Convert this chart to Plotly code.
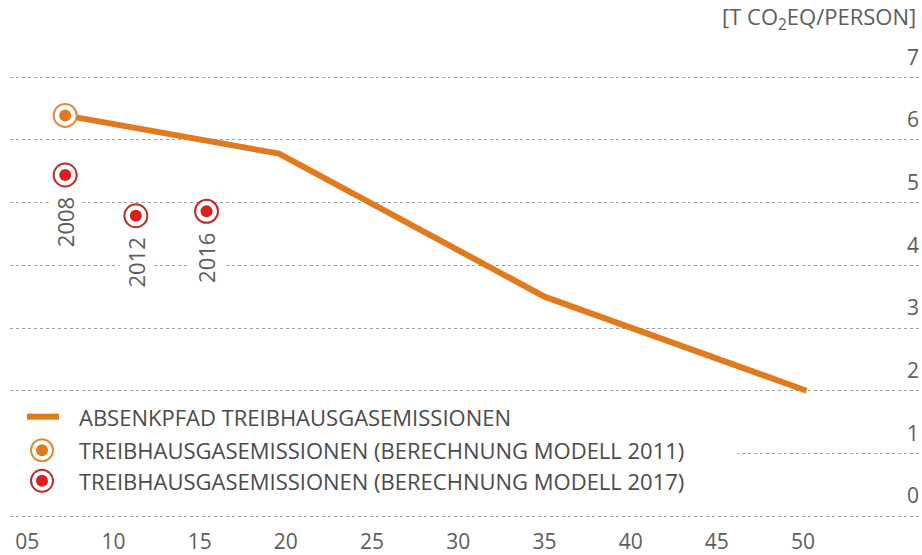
import plotly.graph_objects as go

# Absenkpfad (line) and model results
path_years = [2007.2, 2019.6, 2035.0, 2050.2]
path_values = [6.39, 5.78, 3.50, 2.00]

model2011_years = [2007.2]
model2011_values = [6.39]

model2017_years = [2007.2, 2011.3, 2015.4]
model2017_values = [5.44, 4.79, 4.86]
model2017_labels = ['2008', '2012', '2016']

x_tickvals = [2005, 2010, 2015, 2020, 2025, 2030, 2035, 2040, 2045, 2050]
x_ticktext = ['05', '10', '15', '20', '25', '30', '35', '40', '45', '50']
y_tickvals = [0, 1, 2, 3, 4, 5, 6, 7]

legend_texts = [
    'ABSENKPFAD TREIBHAUSGASEMISSIONEN',
    'TREIBHAUSGASEMISSIONEN (BERECHNUNG MODELL 2011)',
    'TREIBHAUSGASEMISSIONEN (BERECHNUNG MODELL 2017)',
]

ORANGE = '#e07a1c'
ORANGE_RING = '#e38b3c'
RED = '#d9201f'
RED_RING = '#b8302e'
FONT = 'Open Sans'
GREY = '#5c5c5c'
FS = 22

fig = go.Figure()

fig.add_trace(go.Scatter(
    x=path_years, y=path_values, mode='lines',
    line=dict(color=ORANGE, width=6), showlegend=False, hoverinfo='skip'
))

def add_ring(fig, xs, ys, ring, dot):
    fig.add_trace(go.Scatter(
        x=xs, y=ys, mode='markers', showlegend=False, hoverinfo='skip',
        marker=dict(size=23, color='white', line=dict(color=ring, width=2))
    ))
    fig.add_trace(go.Scatter(
        x=xs, y=ys, mode='markers', showlegend=False,
        marker=dict(size=12, color=dot, line=dict(width=0))
    ))

add_ring(fig, model2011_years, model2011_values, ORANGE_RING, ORANGE)
add_ring(fig, model2017_years, model2017_values, RED_RING, RED)

for x, y, lab in zip(model2017_years, model2017_values, model2017_labels):
    fig.add_annotation(
        x=x, y=y, text=lab, textangle=-90, showarrow=False,
        xanchor='center', yanchor='top', yshift=-20,
        bgcolor='white', font=dict(family=FONT, size=FS, color=GREY)
    )

# hand-made legend (pixel helpers relative to the plot area)
Y_LO, Y_HI = -0.03, 7.8
plot_w = 912
plot_h = 63.5 * (Y_HI - Y_LO)
plot_bottom = 522.7 + 63.5 * (0 - Y_LO)
plot_top = plot_bottom - plot_h
def px_x(px):
    return (px - 10) / plot_w
def px_y(py):
    return (plot_bottom - py) / plot_h

fig.add_shape(type='rect', xref='paper', yref='paper', layer='above',
              x0=0, x1=px_x(737), y0=px_y(503), y1=px_y(404),
              fillcolor='white', line=dict(width=0))

row_y = [px_y(422), px_y(456), px_y(487)]
fig.add_shape(type='line', xref='paper', yref='paper', layer='above',
              xsizemode='pixel', xanchor=px_x(43), x0=-16, x1=16,
              y0=row_y[0], y1=row_y[0], line=dict(color=ORANGE, width=6))
for yy, ring, dot in [(row_y[1], ORANGE_RING, ORANGE), (row_y[2], RED_RING, RED)]:
    fig.add_shape(type='circle', xref='paper', yref='paper', layer='above',
                  xsizemode='pixel', ysizemode='pixel',
                  xanchor=px_x(42), yanchor=yy, x0=-11, x1=11, y0=-11, y1=11,
                  fillcolor='white', line=dict(color=ring, width=2))
    fig.add_shape(type='circle', xref='paper', yref='paper', layer='above',
                  xsizemode='pixel', ysizemode='pixel',
                  xanchor=px_x(42), yanchor=yy, x0=-6, x1=6, y0=-6, y1=6,
                  fillcolor=dot, line=dict(width=0))
for yy, txt in zip(row_y, legend_texts):
    fig.add_annotation(x=px_x(77), y=yy, xref='paper', yref='paper', text=txt,
                       showarrow=False, xanchor='left', yanchor='middle',
                       font=dict(family=FONT, size=FS, color='#4a4a4a'))

fig.add_annotation(
    x=1, y=px_y(18), xref='paper', yref='paper', xanchor='right', xshift=-4,
    yanchor='middle', showarrow=False,
    text='[T CO<sub>2</sub>EQ/PERSON]', font=dict(family=FONT, size=FS, color=GREY)
)

fig.update_layout(
    width=922, height=555,
    margin=dict(l=10, r=0, t=plot_top, b=555 - plot_bottom),
    plot_bgcolor='white', paper_bgcolor='white',
    showlegend=False,
    font=dict(family=FONT, color=GREY),
    xaxis=dict(
        range=[2004.0, 2056.9], tickvals=x_tickvals, ticktext=x_ticktext,
        showgrid=False, zeroline=False, showline=False, ticks='',
        ticklabelstandoff=9,
        tickfont=dict(family=FONT, size=FS - 1, color=GREY)
    ),
    yaxis=dict(
        range=[Y_LO, Y_HI], tickvals=y_tickvals, side='right',
        ticklabelposition='inside', ticklabelshift=-20, ticks='',
        showgrid=True, gridcolor='#a0a0a0', griddash='dot', gridwidth=1,
        zeroline=False, showline=False,
        tickfont=dict(family=FONT, size=FS - 1, color=GREY)
    ),
)

fig.write_html('out.html', config={'displayModeBar': False},
               post_script="document.body.style.margin='0px';")
